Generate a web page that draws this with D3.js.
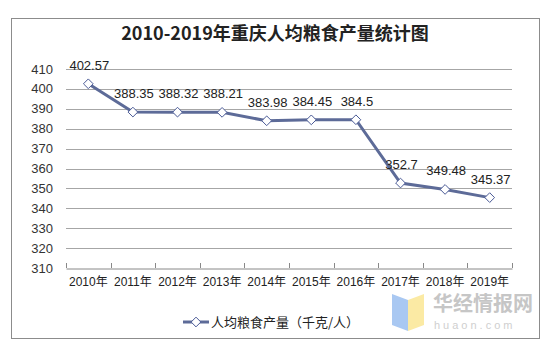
<!DOCTYPE html>
<html>
<head>
<meta charset="utf-8">
<script src="https://cdn.jsdelivr.net/npm/d3@7"></script>
<style>
  body { margin: 0; background: #fff; }
  text { font-family: "Liberation Sans", Arial, sans-serif; }
</style>
</head>
<body>
<div id="chart-area"></div>
<script>
// data
var years = ["2010年", "2011年", "2012年", "2013年", "2014年", "2015年", "2016年", "2017年", "2018年", "2019年"];
var values = [402.57, 388.35, 388.32, 388.21, 383.98, 384.45, 384.5, 352.7, 349.48, 345.37];
var yTicks = [310, 320, 330, 340, 350, 360, 370, 380, 390, 400, 410];
var title = "2010-2019年重庆人均粮食产量统计图";
var seriesName = "人均粮食产量（千克/人）";

var W = 550, H = 351;
var margin = {top: 69, right: 38, bottom: 83, left: 66},
    width = W - margin.left - margin.right,
    height = H - margin.top - margin.bottom;

var svg = d3.select("#chart-area").append("svg")
    .attr("width", W)
    .attr("height", H);

// outer border
svg.append("rect")
    .attr("x", 11.5).attr("y", 18.5)
    .attr("width", 528).attr("height", 320)
    .attr("fill", "#fff")
    .attr("stroke", "#8c8c8c");

svg.append("text")
    .attr("x", 275).attr("y", 40)
    .attr("text-anchor", "middle")
    .style("font-family", "'Noto Sans CJK SC', sans-serif")
    .style("font-size", "18px")
    .style("font-weight", "bold")
    .attr("fill", "#222")
    .text(title);

var g = svg.append("g")
    .attr("transform", "translate(" + margin.left + "," + margin.top + ")");

var x = d3.scaleBand().domain(years).range([0, width]);
var y = d3.scaleLinear().domain([310, 410]).range([height, 0]);

// grid lines
g.selectAll(".grid").data(yTicks.slice(1)).enter().append("line")
    .attr("x1", 0).attr("x2", width)
    .attr("y1", function(d) { return Math.round(y(d)) + 0.5; })
    .attr("y2", function(d) { return Math.round(y(d)) + 0.5; })
    .attr("stroke", "#a6a6a6");

// y labels
g.selectAll(".ylab").data(yTicks).enter().append("text")
    .attr("x", -13)
    .attr("y", function(d) { return y(d); })
    .attr("dy", "0.35em")
    .attr("text-anchor", "end")
    .style("font-size", "13px")
    .attr("fill", "#333")
    .text(function(d) { return d; });

// x axis
var xAxis = g.append("g")
    .attr("transform", "translate(0," + (Math.round(height) + 0.5) + ")")
    .call(d3.axisBottom(x).tickSize(0).tickPadding(9));
xAxis.select(".domain").attr("stroke", "#888");
xAxis.selectAll("text")
    .style("font-family", "'Liberation Sans', 'Noto Sans CJK SC', sans-serif")
    .style("font-size", "12px")
    .attr("fill", "#222");
// tick marks at band edges
g.selectAll(".xtick").data(years.concat([null])).enter().append("line")
    .attr("x1", function(d, i) { return Math.round(i * x.step()) + 0.5; })
    .attr("x2", function(d, i) { return Math.round(i * x.step()) + 0.5; })
    .attr("y1", height - 5).attr("y2", height)
    .attr("stroke", "#888");

var cx = function(d, i) { return x(years[i]) + x.bandwidth() / 2; };

var line = d3.line()
    .x(function(d, i) { return cx(d, i); })
    .y(function(d) { return y(d); });

g.append("path")
    .attr("d", line(values))
    .attr("fill", "none")
    .attr("stroke", "#5d6b98")
    .attr("stroke-width", 3);

var diamond = d3.symbol().type(d3.symbolDiamond2).size(60);
g.selectAll(".pt").data(values).enter().append("path")
    .attr("d", diamond)
    .attr("transform", function(d, i) { return "translate(" + cx(d, i) + "," + y(d) + ")"; })
    .attr("fill", "#fff")
    .attr("stroke", "#4a5a96")
    .attr("stroke-width", 1);

g.selectAll(".lab").data(values).enter().append("text")
    .attr("x", function(d, i) { return cx(d, i) + 1; })
    .attr("y", function(d) { return y(d) - 14; })
    .attr("text-anchor", "middle")
    .style("font-size", "13px")
    .attr("fill", "#222")
    .text(function(d) { return d; });

// legend
var leg = svg.append("g").attr("transform", "translate(183,322)");
leg.append("line").attr("x1", 0).attr("x2", 26)
    .attr("stroke", "#5d6b98").attr("stroke-width", 3);
leg.append("path").attr("d", diamond)
    .attr("transform", "translate(13,0)")
    .attr("fill", "#fff").attr("stroke", "#4a5a96");
leg.append("text").attr("x", 28).attr("dy", "0.36em")
    .style("font-family", "'Noto Sans CJK SC', sans-serif")
    .style("font-size", "13px")
    .attr("fill", "#222")
    .text(seriesName);

// watermark
var wm = svg.append("g");
wm.append("path").attr("d", "M392,294 L408,300 L408,331 L392,325 Z").attr("fill", "#a9c8f2");
wm.append("path").attr("d", "M408,300 L424,294 L424,325 L408,331 Z").attr("fill", "#fbeaa4");
wm.append("text").attr("x", 433).attr("y", 311)
    .style("font-family", "'Noto Sans CJK SC', sans-serif")
    .style("font-size", "20px").style("font-weight", "bold")
    .attr("fill", "#c6c6c6").text("华经情报网");
wm.append("text").attr("x", 434).attr("y", 329)
    .style("font-size", "11px").style("letter-spacing", "3px")
    .attr("fill", "#cfcfcf").text("huaon.com");
</script>
</body>
</html>
